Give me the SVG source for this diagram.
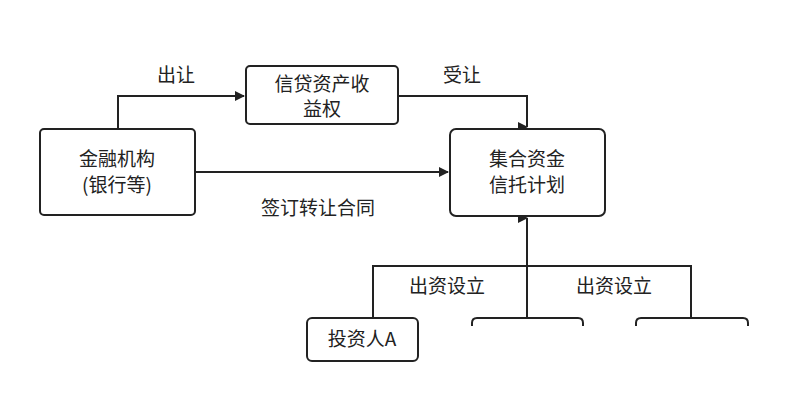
<svg xmlns="http://www.w3.org/2000/svg" width="787" height="402" viewBox="0 0 787 402">
<style>
.b{fill:#fff;stroke:#222;stroke-width:2}
.c{fill:none;stroke:#222;stroke-width:2}
text{font-family:"Noto Sans CJK SC","Liberation Sans",sans-serif;font-size:19px;fill:#222;text-anchor:middle}
</style>
<defs><marker id="a" viewBox="0 0 10 10" refX="9" refY="5" markerWidth="10" markerHeight="10" markerUnits="userSpaceOnUse"><path d="M0,0L10,5L0,10z" fill="#222"/></marker></defs>
<rect width="787" height="402" fill="#fff"/>
<g id="connectors">
<path class="c" d="M118,129V96H244" marker-end="url(#a)"/>
<path class="c" d="M398,96H527V127" marker-end="url(#a)"/>
<path class="c" d="M195,172H448" marker-end="url(#a)"/>
<path class="c" d="M527,318V218" marker-end="url(#a)"/>
<path class="c" d="M373,318V266H691V318"/>
<text x="176" y="82">出让</text>
<text x="462" y="82">受让</text>
<text x="318" y="215">签订转让合同</text>
<text x="447" y="293">出资设立</text>
<text x="614" y="293">出资设立</text>
</g>
<g id="bank"><rect class="b" x="40" y="129" width="155" height="86" rx="4"/><text x="117" y="166">金融机构</text><text x="117" y="192">(银行等)</text></g>
<g id="asset"><rect class="b" x="246" y="66" width="152" height="58" rx="4"/><text x="322" y="91">信贷资产收</text><text x="322" y="116">益权</text></g>
<g id="trust"><rect class="b" x="450" y="129" width="155" height="87" rx="6"/><text x="527" y="166">集合资金</text><text x="527" y="192">信托计划</text></g>
<g id="investorA"><rect class="b" x="307" y="318" width="111" height="43" rx="5"/><text x="362" y="346">投资人A</text></g>
<g id="investorB"><path class="c" d="M472,326V323Q472,318 477,318H578Q583,318 583,323V326"/></g>
<g id="investorC"><path class="c" d="M636,326V323Q636,318 641,318H743Q748,318 748,323V326"/></g>
</svg>
